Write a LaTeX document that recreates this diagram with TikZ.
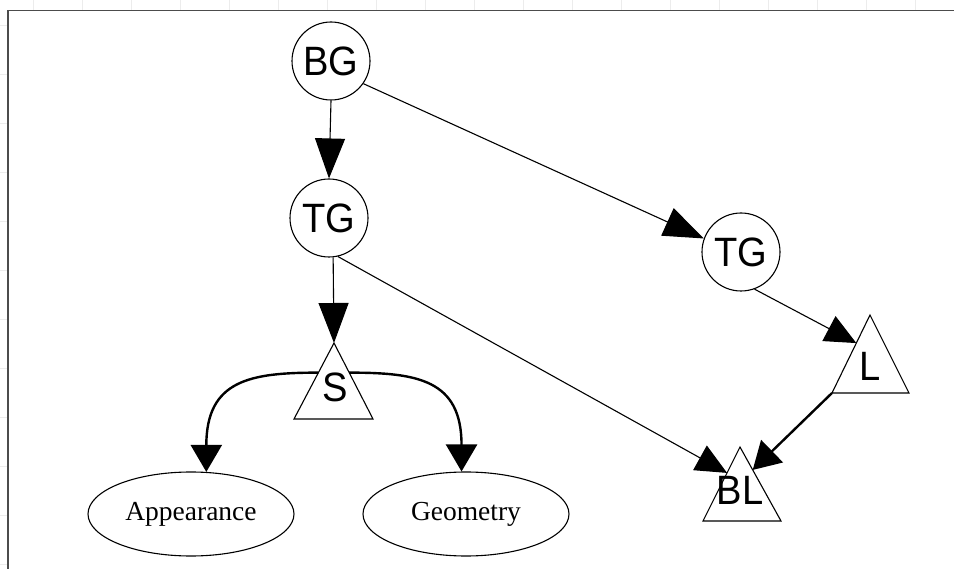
\documentclass[tikz,border=0pt]{standalone}
\usepackage{fontspec}
\setmainfont{Liberation Serif}
\newfontfamily\sansf[FakeStretch=0.93]{Liberation Sans}
\usetikzlibrary{arrows.meta,shapes.geometric,calc}
\begin{document}
\begin{tikzpicture}[x=1pt,y=-1pt,
  gnode/.style={circle,draw,line width=1.1pt,minimum size=78pt,inner sep=0pt,
    font=\sansf\fontsize{41}{41}\selectfont},
  tlabel/.style={inner sep=0pt,font=\sansf\fontsize{41}{41}\selectfont},
  onode/.style={ellipse,draw,line width=1.1pt,minimum width=206pt,minimum height=84pt,
    inner sep=0pt,font=\fontsize{27.5}{27.5}\selectfont},
  tri/.style={draw,line width=1.1pt,line join=miter},
  bigedge/.style={line width=1.1pt,-{Triangle[length=40pt,width=30pt]}},
  smalledge/.style={line width=1.1pt,-{Triangle[length=31pt,width=28pt]}},
  boldedge/.style={line width=2.4pt,-{Triangle[length=27pt,width=31pt]}},
  gridline/.style={gray!15,line width=0.8pt},
  frameline/.style={black!70,line width=1.3pt}
]
\useasboundingbox (0,0) rectangle (954,569);
% faint background grid outside the frame
\foreach \gx in {33,82,...,954} \draw[gridline] (\gx,0) -- (\gx,10);
\foreach \gy in {25,74,...,569} \draw[gridline] (0,\gy) -- (8,\gy);
% frame
\draw[frameline] (8,569) -- (8,10.5) -- (954,10.5);

% circle nodes
\node[gnode] (BG) at (331,61) {BG};
\node[gnode] (TG1) at (329,218) {TG};
\node[gnode] (TG2) at (741,252) {TG};

% ellipse nodes
\node[onode] (App) at (191,514) {Appearance};
\node[onode] (Geo) at (466,514) {Geometry};

% triangles
\coordinate (Sa) at (334,343); \coordinate (Sl) at (294,419); \coordinate (Sr) at (373,419);
\coordinate (La) at (870,315); \coordinate (Ll) at (832,393); \coordinate (Lr) at (909,393);
\coordinate (BLa) at (740,447); \coordinate (BLl) at (703,521); \coordinate (BLr) at (781,521);
\draw[tri] (Sa) -- (Sl) -- (Sr) -- cycle;
\draw[tri] (La) -- (Ll) -- (Lr) -- cycle;
\draw[tri] (BLa) -- (BLl) -- (BLr) -- cycle;
\node[tlabel] (Stext) at (335,387) {S};
\node[tlabel] (Ltext) at (870,366) {L};
\node[tlabel] (BLtext) at (740,490) {BL};

% connector end points on the triangles
\coordinate (BLin1) at ($(BLa)!0.35!(BLl)$);
\coordinate (BLin2) at ($(BLa)!0.31!(BLr)$);
\coordinate (Lin) at ($(La)!0.36!(Ll)$);
\coordinate (Sout1) at ($(Sa)!0.39!(Sl)$);
\coordinate (Sout2) at ($(Sa)!0.39!(Sr)$);

% connectors
\draw[bigedge] (BG.-90) -- (TG1.north);
\draw[bigedge] (BG.-35) -- (TG2.160);
\draw[bigedge] (TG1.-84) -- (Sa);
\draw[smalledge] (TG1.-77) -- (BLin1);
\draw[smalledge] (TG2.-70) -- (Lin);
\draw[boldedge] (Ll) -- (BLin2);
\draw[boldedge] (Sout1) .. controls +(-68,0) and +(0,-92) .. (App.70);
\draw[boldedge] (Sout2) .. controls +(68,0) and +(0,-92) .. (Geo.96);
\end{tikzpicture}
\end{document}
